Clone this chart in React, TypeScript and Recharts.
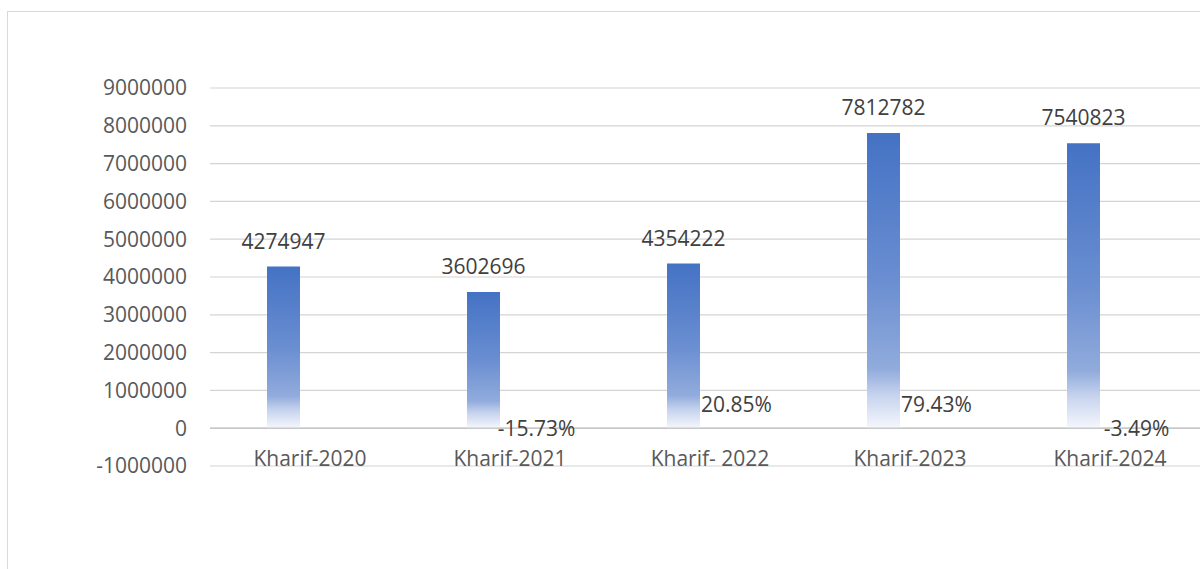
import React from 'react';
import { BarChart, Bar, XAxis, YAxis, CartesianGrid, LabelList, ReferenceLine } from 'recharts';

const categories = ['Kharif-2020', 'Kharif-2021', 'Kharif- 2022', 'Kharif-2023', 'Kharif-2024'];
const production = [4274947, 3602696, 4354222, 7812782, 7540823];
const growthPct: (number | null)[] = [null, -15.73, 20.85, 79.43, -3.49];
const yTicks = [-1000000, 0, 1000000, 2000000, 3000000, 4000000, 5000000, 6000000, 7000000, 8000000, 9000000];

const data = categories.map((name, i) => ({
  name,
  production: production[i],
  growth: growthPct[i] === null ? null : (growthPct[i] as number) / 100,
}));

const FONT = '"Open Sans", "Noto Sans", sans-serif';

const XTick = (props: any) => {
  const { x, y, payload } = props;
  return (
    <text x={x} y={y} textAnchor="middle" fontFamily={FONT} fontSize={21} fill="#595959">
      {payload.value}
    </text>
  );
};

const PctLabel = (props: any) => {
  const { x, y, width, value } = props;
  if (value === null || value === undefined) return null;
  const v = Number(value) * 100;
  const cx = x + width / 2;
  const cy = v >= 0 ? y - 24 : y;
  return (
    <text x={cx} y={cy} dy="0.36em" textAnchor="middle" fontFamily={FONT} fontSize={21} fill="#404040">
      {`${v.toFixed(2)}%`}
    </text>
  );
};

export default function App() {
  return (
    <div style={{ position: 'absolute', left: 0, top: 0, width: 1200, height: 569, overflow: 'hidden', background: '#fff' }}>
      <div style={{ position: 'absolute', left: 7, top: 11, width: 1300, height: 700, border: '1px solid #D9D9D9', boxSizing: 'border-box' }} />
      <div style={{ position: 'absolute', left: 0, top: 0 }}>
        <BarChart
          width={1230}
          height={569}
          data={data}
          margin={{ top: 88, right: 20, left: 0, bottom: 0 }}
          barSize={33}
          barGap={20}
        >
          <defs>
            <linearGradient id="barGrad" x1="0" y1="0" x2="0" y2="1">
              <stop offset="0%" stopColor="#4472C4" />
              <stop offset="50%" stopColor="#6A8ED1" />
              <stop offset="80%" stopColor="#91ABDC" />
              <stop offset="89%" stopColor="#C7D4EE" />
              <stop offset="100%" stopColor="#F5F7FC" />
            </linearGradient>
          </defs>
          <CartesianGrid vertical={false} stroke="#D4D4D4" strokeWidth={1.2} />
          <XAxis
            dataKey="name"
            height={103}
            axisLine={false}
            tickLine={false}
            tickSize={0}
            tickMargin={0}
            tick={<XTick />}
            interval={0}
          />
          <YAxis
            width={210}
            domain={[-1000000, 9000000]}
            ticks={yTicks}
            interval={0}
            axisLine={false}
            tickLine={false}
            tickSize={0}
            tickMargin={23}
            tick={{ fontFamily: FONT, fontSize: 21, fill: '#595959' }}
          />
          <ReferenceLine y={0} stroke="#C8C8C8" strokeWidth={1.5} />
          <Bar dataKey="production" fill="url(#barGrad)" isAnimationActive={false}>
            <LabelList dataKey="production" position="top" offset={18} fontFamily={FONT} fontSize={21} fill="#404040" />
          </Bar>
          <Bar dataKey="growth" fill="none" isAnimationActive={false}>
            <LabelList dataKey="growth" content={<PctLabel />} />
          </Bar>
        </BarChart>
      </div>
    </div>
  );
}
